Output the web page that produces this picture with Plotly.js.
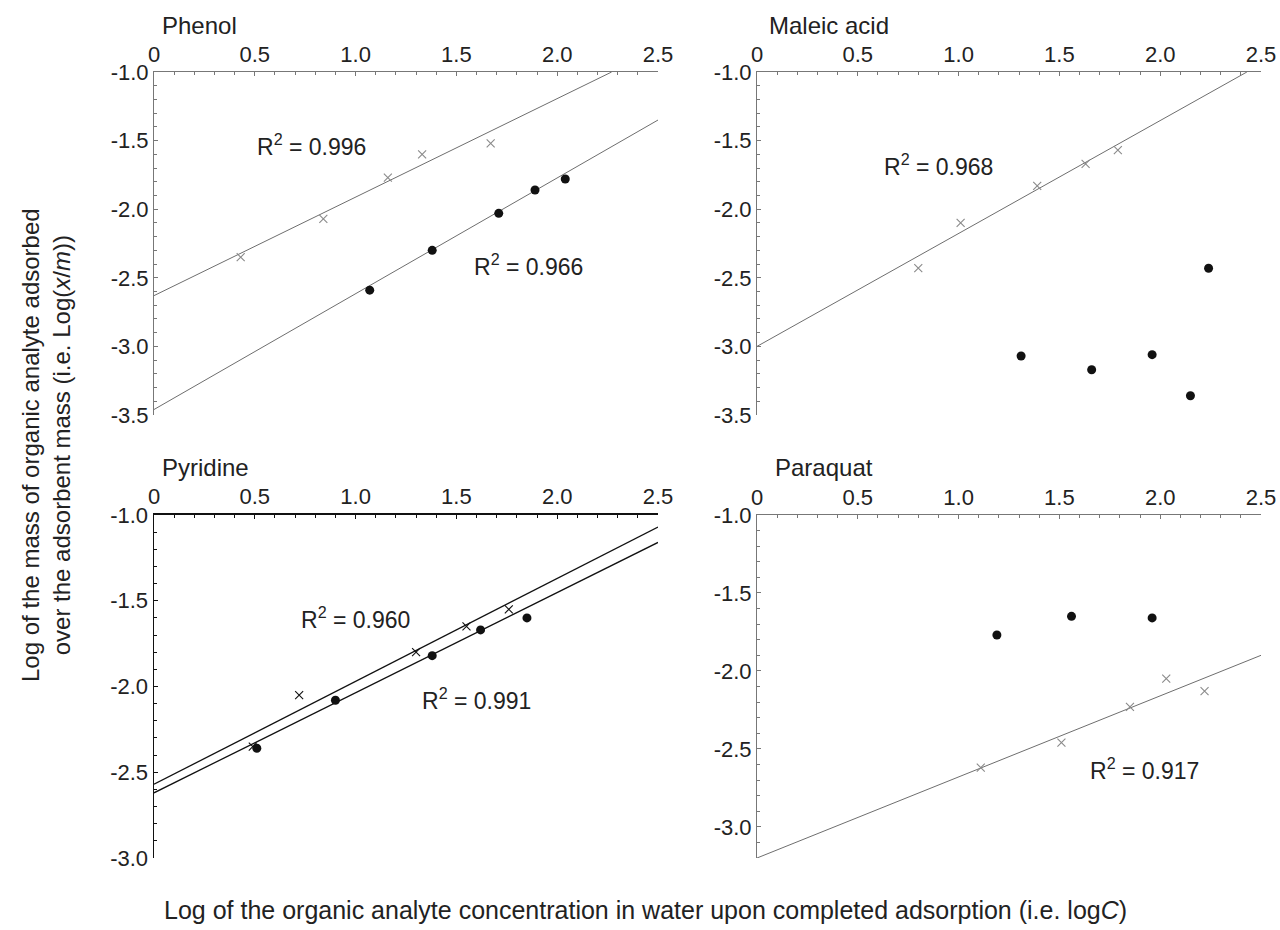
<!DOCTYPE html>
<html>
<head>
<meta charset="utf-8">
<script src="https://cdn.plot.ly/plotly-3.0.1.min.js"></script>
<style>html,body{margin:0;padding:0;background:#fff;}#chart{width:1280px;height:930px;}</style>
</head>
<body>
<div id="chart"></div>
<script>
// ---- Data ----
const xTickVals = [0, 0.5, 1, 1.5, 2, 2.5];
const xTickText = ['0', '0.5', '1.0', '1.5', '2.0', '2.5'];
const yTickValsTop = [-1, -1.5, -2, -2.5, -3, -3.5];
const yTickTextTop = ['-1.0', '-1.5', '-2.0', '-2.5', '-3.0', '-3.5'];
const yTickValsBottom = [-1, -1.5, -2, -2.5, -3];
const yTickTextBottom = ['-1.0', '-1.5', '-2.0', '-2.5', '-3.0'];

// Phenol
const phenolCrossX = [0.43, 0.84, 1.16, 1.33, 1.67];
const phenolCrossY = [-2.35, -2.07, -1.77, -1.60, -1.52];
const phenolDotX = [1.07, 1.38, 1.71, 1.89, 2.04];
const phenolDotY = [-2.59, -2.30, -2.03, -1.86, -1.78];
const phenolCrossFitX = [0, 2.27];
const phenolCrossFitY = [-2.63, -1.0];
const phenolDotFitX = [0, 2.5];
const phenolDotFitY = [-3.46, -1.35];

// Maleic acid
const maleicCrossX = [0.80, 1.01, 1.39, 1.63, 1.79];
const maleicCrossY = [-2.43, -2.10, -1.83, -1.67, -1.57];
const maleicDotX = [1.31, 1.66, 1.96, 2.15, 2.24];
const maleicDotY = [-3.07, -3.17, -3.06, -3.36, -2.43];
const maleicCrossFitX = [0, 2.43];
const maleicCrossFitY = [-3.0, -1.0];

// Pyridine
const pyridineCrossX = [0.49, 0.72, 1.30, 1.55, 1.76];
const pyridineCrossY = [-2.35, -2.05, -1.80, -1.65, -1.55];
const pyridineDotX = [0.51, 0.90, 1.38, 1.62, 1.85];
const pyridineDotY = [-2.36, -2.08, -1.82, -1.67, -1.60];
const pyridineCrossFitX = [0, 2.5];
const pyridineCrossFitY = [-2.57, -1.07];
const pyridineDotFitX = [0, 2.5];
const pyridineDotFitY = [-2.62, -1.16];

// Paraquat
const paraquatCrossX = [1.11, 1.51, 1.85, 2.03, 2.22];
const paraquatCrossY = [-2.62, -2.46, -2.23, -2.05, -2.13];
const paraquatDotX = [1.19, 1.56, 1.96];
const paraquatDotY = [-1.77, -1.65, -1.66];
const paraquatCrossFitX = [0, 2.5];
const paraquatCrossFitY = [-3.2, -1.9];

const r2Labels = ['0.996', '0.966', '0.968', '0.960', '0.991', '0.917'];

// ---- Styles ----
const FONT = 'Liberation Sans, Arial, sans-serif';
const GREY_LINE = '#6e6e6e';
const GREY_MARK = '#8a8a8a';
const BLACK = '#111';

function fit(x, y, xa, ya, color, w) {
  return {x: x, y: y, xaxis: xa, yaxis: ya, mode: 'lines', type: 'scatter',
          line: {color: color, width: w}, hoverinfo: 'skip'};
}
function crosses(x, y, xa, ya, color) {
  return {x: x, y: y, xaxis: xa, yaxis: ya, mode: 'markers', type: 'scatter',
          marker: {symbol: 'x-thin-open', size: 8, color: color, line: {color: color, width: 1.1}}};
}
function dots(x, y, xa, ya) {
  return {x: x, y: y, xaxis: xa, yaxis: ya, mode: 'markers', type: 'scatter',
          marker: {symbol: 'circle', size: 9, color: BLACK}};
}

const data = [
  fit(phenolCrossFitX, phenolCrossFitY, 'x', 'y', GREY_LINE, 1),
  fit(phenolDotFitX, phenolDotFitY, 'x', 'y', GREY_LINE, 1),
  crosses(phenolCrossX, phenolCrossY, 'x', 'y', GREY_MARK),
  dots(phenolDotX, phenolDotY, 'x', 'y'),

  fit(maleicCrossFitX, maleicCrossFitY, 'x2', 'y2', GREY_LINE, 1),
  crosses(maleicCrossX, maleicCrossY, 'x2', 'y2', GREY_MARK),
  dots(maleicDotX, maleicDotY, 'x2', 'y2'),

  fit(pyridineCrossFitX, pyridineCrossFitY, 'x3', 'y3', BLACK, 1.3),
  fit(pyridineDotFitX, pyridineDotFitY, 'x3', 'y3', BLACK, 1.3),
  crosses(pyridineCrossX, pyridineCrossY, 'x3', 'y3', BLACK),
  dots(pyridineDotX, pyridineDotY, 'x3', 'y3'),

  fit(paraquatCrossFitX, paraquatCrossFitY, 'x4', 'y4', GREY_LINE, 1),
  crosses(paraquatCrossX, paraquatCrossY, 'x4', 'y4', GREY_MARK),
  dots(paraquatDotX, paraquatDotY, 'x4', 'y4')
];

const W = 1280, H = 930;
const px = v => v / W;
const py = v => 1 - v / H;

function xAxis(domain, anchor, color, lw) {
  return {domain: domain, anchor: anchor, side: 'top', range: [0, 2.5],
    tickmode: 'array', tickvals: xTickVals, ticktext: xTickText,
    ticks: 'inside', ticklen: 4, tickwidth: 1, tickcolor: color,
    showline: true, linecolor: color, linewidth: lw,
    showgrid: false, zeroline: false, fixedrange: true,
    ticklabeloverflow: 'allow',
    minor: {dtick: 0.1, tick0: 0, ticks: 'inside', ticklen: 2.5, tickcolor: color, tickwidth: 1},
    tickfont: {family: FONT, size: 22, color: '#222'}};
}
function yAxis(domain, anchor, range, vals, text, color, lw) {
  return {domain: domain, anchor: anchor, range: range,
    tickmode: 'array', tickvals: vals, ticktext: text,
    ticks: 'inside', ticklen: 4, tickwidth: 1, tickcolor: color,
    showline: true, linecolor: color, linewidth: lw,
    showgrid: false, zeroline: false, fixedrange: true,
    ticklabeloverflow: 'allow',
    minor: {dtick: 0.1, tick0: 0, ticks: 'inside', ticklen: 2.5, tickcolor: color, tickwidth: 1},
    tickfont: {family: FONT, size: 22, color: '#222'}};
}

const leftX = [px(154), px(658)];
const rightX = [px(757), px(1261)];
const topY = [py(415), py(72)];
const botY = [py(858), py(515)];

function panelTitle(text, x, y) {
  return {text: text, xref: 'paper', yref: 'paper', x: px(x), y: py(y),
    xanchor: 'left', yanchor: 'middle', showarrow: false,
    font: {family: FONT, size: 24, color: '#222'}};
}
function r2(text, xa, ya, x, y) {
  return {text: 'R<sup>2</sup> = ' + text, xref: xa, yref: ya, x: x, y: y,
    xanchor: 'center', yanchor: 'middle', showarrow: false,
    font: {family: FONT, size: 23, color: '#222'}};
}

const layout = {
  width: W, height: H,
  margin: {l: 0, r: 0, t: 0, b: 0},
  paper_bgcolor: '#fff', plot_bgcolor: '#fff',
  showlegend: false,
  xaxis: xAxis(leftX, 'y', '#777', 1),
  yaxis: yAxis(topY, 'x', [-3.5, -1], yTickValsTop, yTickTextTop, '#777', 1),
  xaxis2: xAxis(rightX, 'y2', '#777', 1),
  yaxis2: yAxis(topY, 'x2', [-3.5, -1], yTickValsTop, yTickTextTop, '#777', 1),
  xaxis3: xAxis(leftX, 'y3', '#111', 2.5),
  yaxis3: yAxis(botY, 'x3', [-3, -1], yTickValsBottom, yTickTextBottom, '#111', 1.5),
  xaxis4: xAxis(rightX, 'y4', '#777', 1),
  yaxis4: yAxis(botY, 'x4', [-3.2, -1], yTickValsBottom, yTickTextBottom, '#777', 1),
  annotations: [
    panelTitle('Phenol', 160, 26),
    panelTitle('Maleic acid', 767, 26),
    panelTitle('Pyridine', 160, 467),
    panelTitle('Paraquat', 773, 467),
    r2(r2Labels[0], 'x', 'y', 0.78, -1.53),
    r2(r2Labels[1], 'x', 'y', 1.86, -2.41),
    r2(r2Labels[2], 'x2', 'y2', 0.90, -1.68),
    r2(r2Labels[3], 'x3', 'y3', 1.0, -1.60),
    r2(r2Labels[4], 'x3', 'y3', 1.60, -2.07),
    r2(r2Labels[5], 'x4', 'y4', 1.92, -2.63),
    {text: 'Log of the mass of organic analyte adsorbed<br>over the adsorbent mass (i.e. Log(<i>x</i>/<i>m</i>))',
     xref: 'paper', yref: 'paper', x: px(46), y: py(445), xanchor: 'center', yanchor: 'middle',
     textangle: -90, showarrow: false, font: {family: FONT, size: 24, color: '#222'}},
    {text: 'Log of the organic analyte concentration in water upon completed adsorption (i.e. log<i>C</i>)',
     xref: 'paper', yref: 'paper', x: px(645), y: py(910), xanchor: 'center', yanchor: 'middle',
     showarrow: false, font: {family: FONT, size: 25, color: '#222'}}
  ]
};

Plotly.newPlot('chart', data, layout, {staticPlot: true, displayModeBar: false});
</script>
</body>
</html>
